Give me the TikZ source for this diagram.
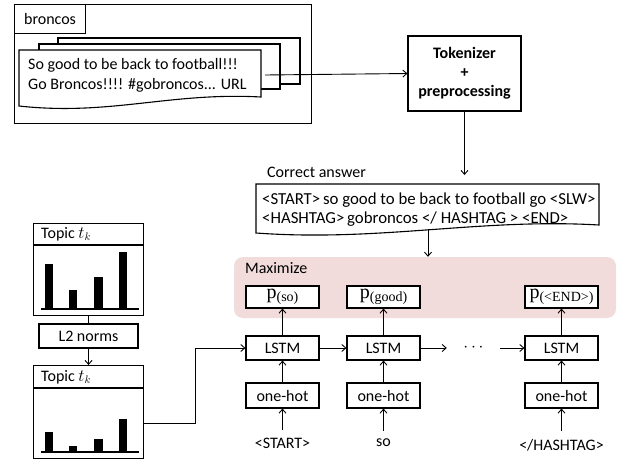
\documentclass[tikz,border=0pt]{standalone}
\usepackage{fontspec}
\setmainfont{Carlito}
\newfontfamily\pserif{Liberation Serif}
\usetikzlibrary{arrows.meta}
\definecolor{pinkc}{HTML}{F2DCDB}
\newcommand\pword[1]{{\pserif\fontsize{20}{20}\selectfont p\raisebox{-2.5pt}{\fontsize{14}{14}\selectfont #1}}}
\begin{document}
\begin{tikzpicture}[x=1pt,y=-1pt, line join=miter,
  box/.style={draw, line width=1.1pt, fill=white, inner sep=0pt, font=\fontsize{16}{19}\selectfont},
  conn/.style={line width=0.9pt},
  arr/.style={conn, -{Straight Barb[length=4pt,width=7pt]}},
  txt/.style={font=\fontsize{16}{20}\selectfont, inner sep=0pt},
  bar/.style={fill=black}]
\useasboundingbox (0,0) rectangle (625,464);

% broncos panel
\node[draw, line width=1.1pt, minimum width=297pt, minimum height=119pt, anchor=north west, inner sep=0pt] (panel) at (14,4) {};
\node[box, minimum width=71pt, minimum height=29pt, anchor=north west] (tab) at (14,4) {broncos};
\draw[line width=1.1pt, fill=white] (58,38) rectangle (300,84);
\draw[line width=1.1pt, fill=white] (39,44) rectangle (280,89);
\draw[line width=1.1pt, fill=white] (19,50) -- (261,50) -- (261,97) .. controls (170,92) and (110,116) .. (19,106) -- cycle;
\node[txt, align=left, anchor=west] (tweet) at (28,75) {So good to be back to football!!!\\Go Broncos!!!! \#gobroncos... URL};
\coordinate (tw) at (265,75);

% tokenizer
\node[box, font=\bfseries\fontsize{16}{19}\selectfont, align=center, minimum width=113pt, minimum height=75pt] (tok) at (464.5,73.5) {Tokenizer\\+\\preprocessing};
\draw[arr] (tw) -- (tok.west);
\coordinate (tokin) at (464.5,175);
\draw[arr] (tok.south) -- (tokin);

% correct answer
\node[txt, anchor=west] (calabel) at (267,172) {Correct answer};
\draw[line width=1.1pt, fill=white] (256,184) -- (599,184) -- (599,225) .. controls (480,218) and (380,242) .. (256,233) -- cycle;
\node[inner sep=0pt, anchor=west, align=left, font=\fontsize{16.8}{19}\selectfont] (ans) at (262,210) {<START>\,so good to be back to football go <SLW>\\<HASHTAG>\,gobroncos </ HASHTAG > <END>};
\coordinate (ansout) at (428,229);

% maximize region
\node[fill=pinkc, rounded corners=9pt, minimum width=382pt, minimum height=61pt, inner sep=0pt] (maxreg) at (425,287.5) {};
\node[txt, anchor=west] (maxlab) at (245,268) {Maximize};
\draw[arr] (ansout) -- (ansout |- maxreg.north);

% p boxes
\node[box, minimum width=73pt, minimum height=22pt] (p1) at (282.5,297) {\pword{(so)}};
\node[box, minimum width=73pt, minimum height=22pt] (p2) at (383.5,297) {\pword{(good)}};
\node[box, minimum width=73pt, minimum height=22pt] (p3) at (561.5,297) {\pword{(<END>)}};

% LSTM
\node[box, minimum width=73pt, minimum height=24pt] (l1) at (282.5,348) {LSTM};
\node[box, minimum width=73pt, minimum height=24pt] (l2) at (383.5,348) {LSTM};
\node[box, minimum width=73pt, minimum height=24pt] (l3) at (561.5,348) {LSTM};
\node[inner sep=0pt, minimum width=53pt, font=\fontsize{16}{19}\selectfont] (dots) at (473.5,348) {$\cdots$};

% one-hot
\node[box, minimum width=73pt, minimum height=25pt] (o1) at (282.5,395.5) {one-hot};
\node[box, minimum width=73pt, minimum height=25pt] (o2) at (383.5,395.5) {one-hot};
\node[box, minimum width=73pt, minimum height=25pt] (o3) at (561.5,395.5) {one-hot};

% inputs
\node[txt] (i1) at (282.5,443) {<START>};
\node[txt] (i2) at (383.5,443) {so};
\node[txt] (i3) at (561.5,445) {</HASHTAG>};

\foreach \k in {1,2,3}{
  \draw[arr] ([yshift=8pt]i\k.north -| o\k.south) -- (o\k.south);
  \draw[arr] (o\k.north) -- (l\k.south);
  \draw[arr] (l\k.north) -- (p\k.south);
}
\draw[arr] (l1.east) -- (l2.west);
\draw[arr] (l2.east) -- (dots.west);
\draw[arr] (dots.east) -- (l3.west);

% topic boxes
\node[draw, line width=1.1pt, minimum width=110pt, minimum height=92pt, inner sep=0pt, anchor=north west] (tA) at (33,223) {};
\draw[line width=1.1pt] (33,245) -- (143,245);
\node[txt, anchor=west] (tAlab) at (41,234) {Topic $t_k$};
\draw[line width=1.6pt] (41,309) -- (139,309);
\fill[bar] (45,264) rectangle (53,309);
\fill[bar] (69,290) rectangle (77,309);
\fill[bar] (94,277) rectangle (103,309);
\fill[bar] (119,252) rectangle (127,309);

\node[box, minimum width=99pt, minimum height=24pt] (l2n) at (88.5,336) {L2 norms};
\draw[conn] (tA.south) -- (l2n.north);

\node[draw, line width=1.1pt, minimum width=110pt, minimum height=93pt, inner sep=0pt, anchor=north west] (tB) at (33,365) {};
\draw[line width=1.1pt] (33,388) -- (143,388);
\node[txt, anchor=west] (tBlab) at (41,377) {Topic $t_k$};
\draw[line width=1.6pt] (41,452) -- (139,452);
\fill[bar] (45,432) rectangle (53,452);
\fill[bar] (69,446) rectangle (77,452);
\fill[bar] (94,439) rectangle (103,452);
\fill[bar] (119,419) rectangle (127,452);
\draw[arr] (l2n.south) -- (tB.north);

\coordinate (bend) at (195,348);
\draw[arr] ([yshift=-11.5pt]tB.east) -| (bend) -- (l1.west);
\end{tikzpicture}
\end{document}
